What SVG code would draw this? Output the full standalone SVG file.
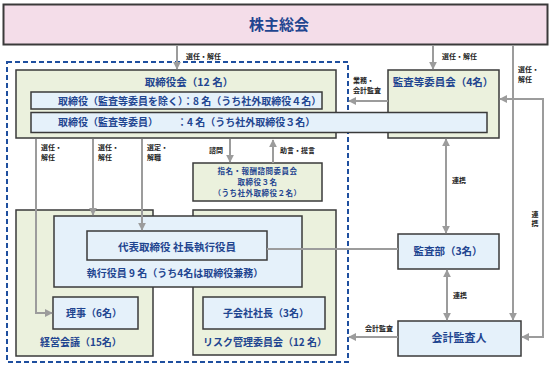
<svg xmlns="http://www.w3.org/2000/svg" width="555" height="366" viewBox="0 0 555 366">
<defs>
<style>
text{font-family:"Noto Sans CJK JP","Noto Sans",sans-serif;}
.t{fill:#1f4590;font-weight:700;}
.l{fill:#222;font-size:7px;font-weight:700;}
.box{stroke:#3a3a3a;stroke-width:1.5;}
.g{fill:#ebf1dd;}
.b{fill:#e5f1fa;}
.c{fill:none;stroke:#9c9c9c;stroke-width:2;}
.s{font-size:7.5px;letter-spacing:0.5px;}
</style>
<marker id="ah" viewBox="0 0 10 10" refX="9" refY="5" markerWidth="8" markerHeight="8" markerUnits="userSpaceOnUse" orient="auto-start-reverse">
<path d="M0,0 L10,5 L0,10 z" fill="#9c9c9c"/>
</marker>
</defs>
<rect width="555" height="366" fill="#fff"/>

<g id="kabunushi">
<rect x="3.5" y="4.5" width="544" height="40" fill="#f4dde9" stroke="#3a3a3a" stroke-width="2"/>
<text x="279" y="30" class="t" font-size="15" text-anchor="middle">株主総会</text>
</g>

<g id="audit-frame">
<rect x="7" y="62" width="341" height="300" fill="none" stroke="#1f4f9f" stroke-width="2" stroke-dasharray="5 3"/>
</g>

<g id="kansa-iinkai">
<rect x="388" y="70" width="111" height="68" class="box g"/>
<text x="443" y="86" class="t" font-size="10.5" text-anchor="middle">監査等委員会（4名）</text>
</g>

<g id="torishimariyakukai">
<rect x="16" y="70" width="320" height="68" class="box g"/>
<text x="189" y="86" class="t" font-size="10.5" text-anchor="middle">取締役会（12 名）</text>
<rect x="31" y="92" width="291" height="17" class="box b"/>
<text x="58" y="104.5" class="t" font-size="10">取締役（監査等委員を除く）：8 名（うち社外取締役４名）</text>
<rect x="31" y="112.5" width="456" height="20" class="box b"/>
<text x="58" y="126" class="t" font-size="10">取締役（監査等委員）</text>
<text x="177" y="126" class="t" font-size="10">：4 名（うち社外取締役３名）</text>
</g>

<g id="shimei">
<rect x="193" y="163" width="129" height="38" class="box g"/>
<text x="257.5" y="173.5" class="t s" text-anchor="middle">指名・報酬諮問委員会</text>
<text x="257.5" y="184.5" class="t s" text-anchor="middle">取締役３名</text>
<text x="257.5" y="195.5" class="t s" text-anchor="middle">（うち社外取締役２名）</text>
</g>

<g id="keiei-kaigi">
<rect x="16" y="210" width="137" height="146" class="box g"/>
<text x="40" y="346" class="t" font-size="10">経営会議（15名）</text>
</g>

<g id="risk">
<rect x="193" y="210" width="143" height="145" class="box g"/>
<text x="265" y="346" class="t" font-size="10" text-anchor="middle">リスク管理委員会（12 名）</text>
</g>

<g id="shikko-yakuin">
<rect x="54" y="216" width="248" height="71" class="box b"/>
<text x="175" y="277" class="t" font-size="10" text-anchor="middle">執行役員 9 名（うち4名は取締役兼務）</text>
</g>

<g id="daihyo">
<rect x="87" y="231" width="180" height="29" class="box b"/>
<text x="177" y="251" class="t" font-size="10.5" text-anchor="middle">代表取締役 社長執行役員</text>
</g>

<g id="riji">
<rect x="53" y="297" width="85" height="32" class="box b"/>
<text x="94" y="317" class="t" font-size="10" text-anchor="middle">理事（6名）</text>
</g>

<g id="kogaisha">
<rect x="203" y="297" width="122" height="32" class="box b"/>
<text x="266" y="317" class="t" font-size="10" text-anchor="middle">子会社社長（3名）</text>
</g>

<g id="kansabu">
<rect x="398" y="234" width="101" height="35" class="box b"/>
<text x="448" y="255" class="t" font-size="10.5" text-anchor="middle">監査部（3名）</text>
</g>

<g id="kaikei-kansanin">
<rect x="398" y="321" width="123" height="35" class="box b"/>
<text x="459" y="342" class="t" font-size="11" text-anchor="middle">会計監査人</text>
</g>

<g id="connectors">
<path class="c" d="M177 45 V69" marker-end="url(#ah)"/>
<path class="c" d="M433 45 V69" marker-end="url(#ah)"/>
<path class="c" d="M513 45 V320" marker-end="url(#ah)"/>
<path class="c" d="M388 101 H349" marker-end="url(#ah)"/>
<path class="c" d="M500 99 H543 V337 H522" marker-start="url(#ah)" marker-end="url(#ah)"/>
<path class="c" d="M446 139 V233" marker-start="url(#ah)" marker-end="url(#ah)"/>
<path class="c" d="M447 270 V320" marker-start="url(#ah)" marker-end="url(#ah)"/>
<path class="c" d="M398 337 H349" marker-end="url(#ah)"/>
<path class="c" d="M267 249 H398"/>
<path class="c" d="M230 139 V162" marker-end="url(#ah)"/>
<path class="c" d="M273 163 V140" marker-end="url(#ah)"/>
<path class="c" d="M36 139 V313 H52" marker-end="url(#ah)"/>
<path class="c" d="M93 139 V215" marker-end="url(#ah)"/>
<path class="c" d="M142 139 V230" marker-end="url(#ah)"/>
<text x="186" y="59" class="l">選任・解任</text>
<text x="442" y="59" class="l">選任・解任</text>
<text x="518" y="72" class="l">選任・</text>
<text x="518" y="82" class="l">解任</text>
<text x="353" y="83" class="l">業務・</text>
<text x="353" y="93" class="l">会計監査</text>
<text x="535" y="217" class="l" text-anchor="middle">連</text>
<text x="535" y="226" class="l" text-anchor="middle">携</text>
<text x="452" y="183" class="l">連携</text>
<text x="453" y="298" class="l">連携</text>
<text x="365" y="331" class="l">会計監査</text>
<text x="209" y="153" class="l">諮問</text>
<text x="280" y="153" class="l">助言・提言</text>
<text x="41" y="150" class="l">選任・</text>
<text x="41" y="160" class="l">解任</text>
<text x="98" y="150" class="l">選任・</text>
<text x="98" y="160" class="l">解任</text>
<text x="147" y="150" class="l">選定・</text>
<text x="147" y="160" class="l">解職</text>
</g>
</svg>
